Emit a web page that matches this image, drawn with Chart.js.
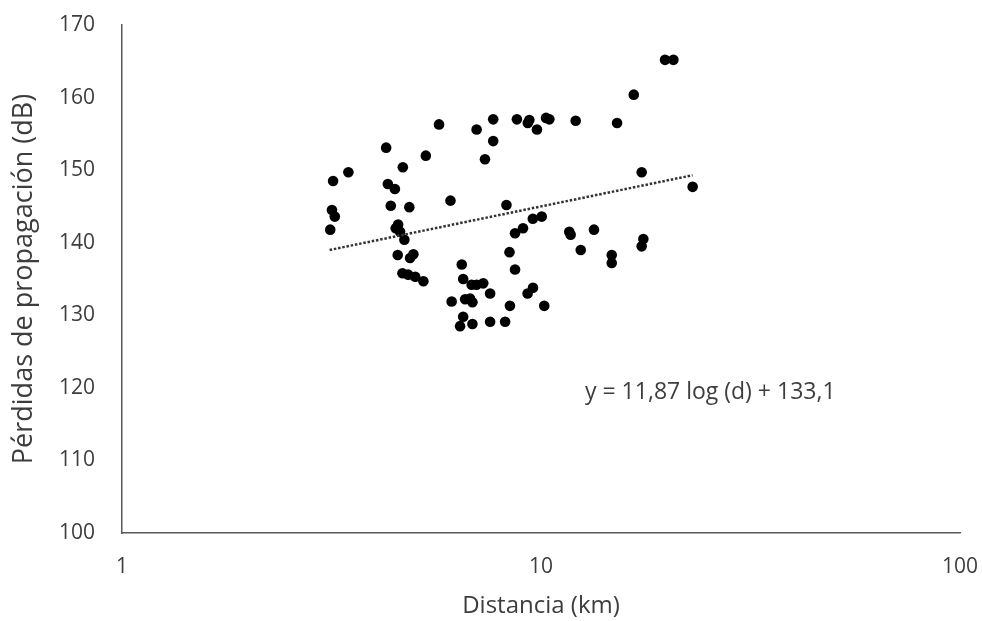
<!DOCTYPE html>
<html>
<head>
<meta charset="utf-8">
<script src="https://cdn.jsdelivr.net/npm/chart.js@4/dist/chart.umd.min.js"></script>
<style>
  html, body { margin: 0; padding: 0; background: #fff; }
  #wrap { width: 982px; height: 621px; position: relative; }
</style>
</head>
<body>
<div id="wrap"><canvas id="c" width="982" height="621"></canvas></div>
<script>
// distancia (km) y pérdidas (dB)
const distKm = [
  3.14, 3.19, 3.17, 3.22, 3.47, 4.27, 4.31, 4.48, 4.38, 4.56,
  4.50, 4.61, 4.72, 4.55, 4.96, 4.87, 4.68, 4.67, 4.82, 5.01,
  5.24, 4.85, 5.31, 5.71, 6.08, 6.12, 6.47, 6.52, 6.59, 6.77,
  6.86, 6.52, 6.41, 6.86, 6.83, 7.02, 7.28, 7.02, 7.35, 7.56,
  7.56, 7.69, 7.69, 8.21, 8.27, 8.43, 8.41, 8.67, 8.67, 9.06,
  8.76, 9.30, 9.38, 9.78, 9.29, 9.57, 9.56, 10.04, 10.18, 10.28,
  10.47, 12.10, 11.68, 11.77, 13.38, 12.44, 14.75, 14.75, 15.19, 16.65,
  17.39, 17.55, 17.39, 19.77, 20.70, 23.01
];
const perdidasDb = [
  141.8, 148.5, 144.5, 143.6, 149.7, 153.1, 148.1, 147.4, 145.1, 142.5,
  142.0, 141.5, 140.4, 138.3, 138.4, 137.9, 150.4, 135.8, 135.6, 135.3,
  134.7, 144.9, 152.0, 156.3, 145.8, 131.9, 137.0, 135.0, 132.2, 132.3,
  131.8, 129.8, 128.5, 128.8, 134.2, 134.2, 134.4, 155.6, 151.5, 133.0,
  129.1, 157.0, 154.0, 129.1, 145.2, 131.3, 138.7, 136.3, 141.3, 142.0,
  157.0, 156.5, 156.9, 155.6, 133.0, 133.8, 143.3, 143.6, 131.3, 157.2,
  157.0, 156.8, 141.5, 141.1, 141.8, 139.0, 138.3, 137.2, 156.5, 160.4,
  149.7, 140.5, 139.5, 165.2, 165.2, 147.7
];
// extremos de la línea de tendencia
const trendKm = [3.13, 23.0];
const trendDb = [139.0, 149.3];
const xTicks = [1, 10, 100];
const yTicks = [100, 110, 120, 130, 140, 150, 160, 170];
const ecuacion = "y = 11,87 log (d) + 133,1";

const ink = "#3d3d3d";
const axisCol = "#595959";
const fam = "'Open Sans', Lato, sans-serif";

const puntos = distKm.map((d, i) => ({ x: d, y: perdidasDb[i] }));
const tendencia = trendKm.map((d, i) => ({ x: d, y: trendDb[i] }));

// etiqueta de la ecuación de la tendencia
const ecuacionPlugin = {
  id: "ecuacion",
  afterDraw(chart) {
    const ctx = chart.ctx;
    ctx.save();
    ctx.font = "23px " + fam;
    ctx.fillStyle = ink;
    ctx.textBaseline = "middle";
    ctx.fillText(ecuacion, 585, 392);
    ctx.restore();
  }
};

new Chart(document.getElementById("c"), {
  type: "scatter",
  data: {
    datasets: [
      {
        data: tendencia, showLine: true, pointRadius: 0, fill: false,
        borderColor: "#333", borderWidth: 2.5, borderDash: [2.5, 1.8], borderCapStyle: "butt"
      },
      {
        data: puntos, pointRadius: 5.3, pointBackgroundColor: "#000", pointBorderWidth: 0,
        pointBorderColor: "#000", showLine: false
      }
    ]
  },
  options: {
    responsive: false, animation: false,
    layout: { padding: { top: 25, right: 22, left: 0, bottom: 0 } },
    plugins: { legend: { display: false }, tooltip: { enabled: false } },
    scales: {
      x: {
        type: "logarithmic", min: 1, max: 100,
        afterFit: (s) => { s.height = 88; s.paddingLeft = 0; s.paddingRight = 0; },
        afterBuildTicks: (s) => { s.ticks = xTicks.map(v => ({ value: v })); },
        grid: { display: false, drawTicks: false },
        border: { display: true, color: axisCol, width: 1.5 },
        ticks: { color: ink, padding: 21, font: { family: fam, size: 21 }, autoSkip: false, maxRotation: 0,
          callback: (v) => String(v) },
        title: { display: true, text: "Distancia (km)", color: ink, font: { family: fam, size: 24 }, padding: 0 }
      },
      y: {
        min: 100, max: 170,
        afterFit: (s) => { s.width = 122; s.paddingTop = 0; s.paddingBottom = 0; },
        afterBuildTicks: (s) => { s.ticks = yTicks.map(v => ({ value: v })); },
        grid: { display: false, drawTicks: false },
        border: { display: true, color: axisCol, width: 1.5 },
        ticks: { color: ink, padding: 27, font: { family: fam, size: 21 } },
        title: { display: true, text: "Pérdidas de propagación (dB)", color: ink, font: { family: fam, size: 27 }, padding: { top: 8, bottom: 0 } }
      }
    }
  },
  plugins: [ecuacionPlugin]
});
</script>
</body>
</html>
